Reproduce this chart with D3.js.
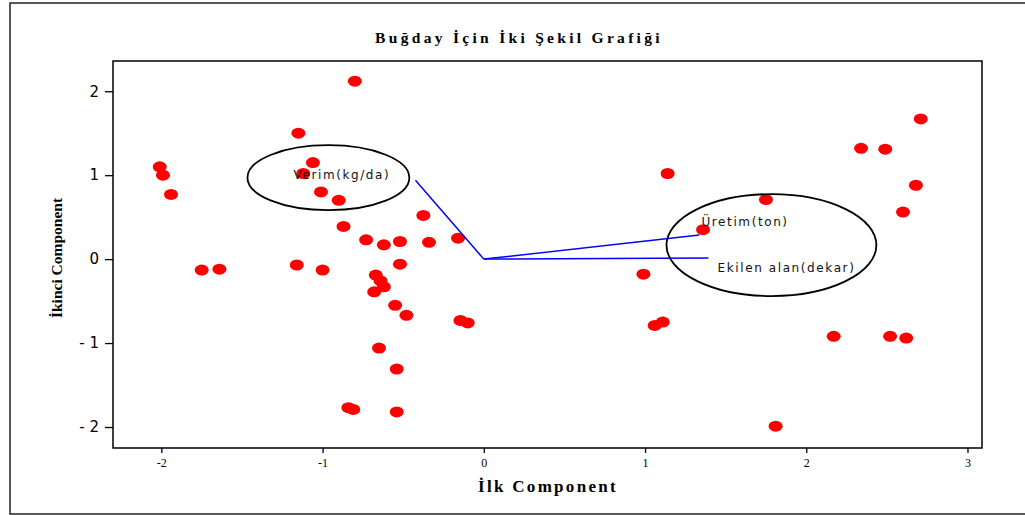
<!DOCTYPE html>
<html><head><meta charset="utf-8">
<script src="https://cdn.jsdelivr.net/npm/d3@7"></script>
<style>body{margin:0;background:#fff}svg{display:block}</style>
</head><body>
<script>
// ---- data ----
const pointsX = [-0.80,-1.15,-2.01,-1.99,-1.94,-1.06,-1.12,-1.01,-0.90,-0.87,-0.73,-0.62,-0.52,-0.375,-0.34,-0.16,
  -1.75,-1.64,-1.16,-1.00,-0.67,-0.64,-0.62,-0.68,-0.52,-0.55,-0.48,-0.145,-0.10,-0.65,-0.54,-0.84,-0.81,-0.54,
  0.99,1.14,1.06,1.11,1.75,1.36,1.81,2.17,2.34,2.49,2.71,2.68,2.60,2.52,2.62];
const pointsY = [2.12,1.50,1.10,1.00,0.77,1.15,1.02,0.80,0.70,0.39,0.23,0.17,0.21,0.52,0.20,0.25,
  -0.13,-0.12,-0.07,-0.13,-0.19,-0.26,-0.33,-0.39,-0.06,-0.55,-0.67,-0.73,-0.76,-1.06,-1.31,-1.77,-1.79,-1.82,
  -0.18,1.02,-0.79,-0.75,0.71,0.35,-1.99,-0.92,1.32,1.31,1.67,0.88,0.56,-0.92,-0.94];
const vectorNames = ["Verim(kg/da)","Üretim(ton)","Ekilen alan(dekar)"];
const vectorX = [-0.424, 1.337, 1.393];
const vectorY = [0.94, 0.286, 0.012];
const labelX = [-1.18, 1.35, 1.45];
const labelY = [1.00, 0.45, -0.10];
const ellipseCX = [-0.964, 1.784];
const ellipseCY = [0.97, 0.167];
const ellipseRX = [0.502, 0.651];
const ellipseRY = [0.387, 0.607];
const xTicks = [-2,-1,0,1,2,3];
const yTicks = [-2,-1,0,1,2];
const title = "Buğday İçin İki Şekil Grafiği";
const xTitle = "İlk Component";
const yTitle = "İkinci Component";

// ---- drawing ----
const W = 1025, H = 515;
const svg = d3.select("body").append("svg").attr("width", W).attr("height", H);
const L = 113, R = 982, T = 61, B = 448;
const x = d3.scaleLinear().domain([-2.3, 3.09]).range([L, R]);
const y = d3.scaleLinear().domain([-2.25, 2.36]).range([B, T]);

// outer border
svg.append("rect").attr("x", 10).attr("y", 3).attr("width", 1030).attr("height", 511)
  .attr("fill", "none").attr("stroke", "#222").attr("stroke-width", 1.5);

// title
svg.append("text").attr("x", 519).attr("y", 43).attr("text-anchor", "middle")
  .attr("font-family", "Liberation Serif, Times New Roman, serif").attr("font-weight", "bold")
  .attr("font-size", 15.5).attr("letter-spacing", "3.3px").text(title);

// axes
const xAxis = svg.append("g").attr("transform", `translate(0,${B})`)
  .call(d3.axisBottom(x).tickValues(xTicks).tickSize(5).tickPadding(5).tickFormat(d => d));
xAxis.select(".domain").remove();
xAxis.selectAll("line").attr("stroke", "#000").attr("stroke-width", 1.3);
xAxis.selectAll("text").attr("font-family", "Liberation Serif, serif").attr("font-size", 12).attr("fill", "#000");

const yAxis = svg.append("g").attr("transform", `translate(${L},0)`)
  .call(d3.axisLeft(y).tickValues(yTicks).tickSize(8).tickPadding(6)
    .tickFormat(d => d < 0 ? "- " + Math.abs(d) : String(d)));
yAxis.select(".domain").remove();
yAxis.selectAll("line").attr("stroke", "#000").attr("stroke-width", 1.3);
yAxis.selectAll("text").attr("font-family", "DejaVu Sans, Verdana, sans-serif").attr("font-size", 15)
  .attr("fill", "#000").style("white-space", "pre");

// frame
svg.append("rect").attr("x", L).attr("y", T).attr("width", R - L).attr("height", B - T)
  .attr("fill", "none").attr("stroke", "#000").attr("stroke-width", 1.5);

// axis titles
svg.append("text").attr("x", 548).attr("y", 492).attr("text-anchor", "middle")
  .attr("font-family", "Liberation Serif, serif").attr("font-weight", "bold")
  .attr("font-size", 17).attr("letter-spacing", "2.3px").text(xTitle);
svg.append("text").attr("transform", "translate(62,258) rotate(-90)").attr("text-anchor", "middle")
  .attr("font-family", "Liberation Serif, serif").attr("font-weight", "bold")
  .attr("font-size", 15.5).text(yTitle);

// points
const pts = pointsX.map((v, i) => ({x: v, y: pointsY[i]}));
svg.append("g").selectAll("ellipse").data(pts).join("ellipse")
  .attr("cx", d => x(d.x)).attr("cy", d => y(d.y)).attr("rx", 7).attr("ry", 5.5)
  .attr("fill", "#ff0000");

// vectors
const vecs = vectorNames.map((n, i) => ({name: n, x: vectorX[i], y: vectorY[i], lx: labelX[i], ly: labelY[i]}));
svg.append("g").selectAll("line").data(vecs).join("line")
  .attr("x1", x(0)).attr("y1", y(0)).attr("x2", d => x(d.x)).attr("y2", d => y(d.y))
  .attr("stroke", "#0000ff").attr("stroke-width", 1.5);

// ellipses
const ells = ellipseCX.map((v, i) => ({cx: v, cy: ellipseCY[i], rx: ellipseRX[i], ry: ellipseRY[i]}));
svg.append("g").selectAll("ellipse").data(ells).join("ellipse")
  .attr("cx", d => x(d.cx)).attr("cy", d => y(d.cy))
  .attr("rx", d => x(d.rx) - x(0)).attr("ry", d => y(0) - y(d.ry))
  .attr("fill", "none").attr("stroke", "#000").attr("stroke-width", 1.8);

// vector labels
svg.append("g").selectAll("text").data(vecs).join("text")
  .attr("x", d => x(d.lx)).attr("y", d => y(d.ly)).attr("dy", "0.35em")
  .attr("font-family", "DejaVu Sans, Verdana, sans-serif").attr("font-size", 12)
  .attr("letter-spacing", "1.6px").attr("fill", "#111").text(d => d.name);
</script>
</body></html>
